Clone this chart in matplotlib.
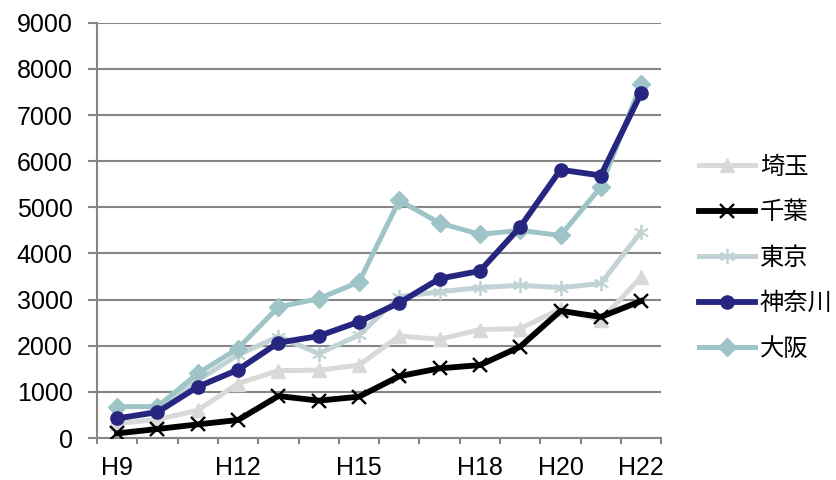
import matplotlib
matplotlib.use("Agg")
import matplotlib.pyplot as plt
import numpy as np

plt.rcParams['font.family'] = ['Liberation Sans', 'Noto Sans CJK JP', 'DejaVu Sans']

categories = ["H9", "H10", "H11", "H12", "H13", "H14", "H15", "H16", "H17", "H18", "H19", "H20", "H21", "H22"]
tick_labels = ["H9", "", "", "H12", "", "", "H15", "", "", "H18", "", "H20", "", "H22"]

saitama = [315, 400, 600, 1180, 1460, 1470, 1580, 2210, 2140, 2350, 2370, 2800, 2550, 3490]
chiba = [100, 195, 295, 390, 910, 810, 895, 1340, 1510, 1580, 1980, 2755, 2625, 2970]
tokyo = [400, 600, 1250, 1800, 2200, 1830, 2230, 3060, 3170, 3260, 3310, 3260, 3350, 4470]
kanagawa = [425, 560, 1110, 1480, 2065, 2210, 2520, 2930, 3455, 3620, 4575, 5815, 5690, 7475]
osaka = [680, 680, 1400, 1940, 2840, 3020, 3380, 5150, 4660, 4415, 4500, 4390, 5440, 7680]

series_names = ["埼玉", "千葉", "東京", "神奈川", "大阪"]

fig = plt.figure(figsize=(8.36, 4.8), dpi=100)
ax = fig.add_axes([0.116, 0.0875, 0.675, 0.865])

x = np.arange(len(categories))
grid_c = "#868686"

ax.plot(x, saitama, color="#D9D9D9", lw=3.6, marker="^", ms=10, mec="#D9D9D9", mfc="#D9D9D9", label=series_names[0], zorder=3)
ax.plot(x, chiba, color="#000000", lw=4.2, marker="x", ms=10.5, mew=1.7, mec="#000000", label=series_names[1], zorder=4)
ax.plot(x, tokyo, color="#C2D3D5", lw=3.6, marker=(6, 2, 0), ms=11, mew=1.3, mec="#C2D3D5", label=series_names[2], zorder=3)
ax.plot(x, kanagawa, color="#262680", lw=4.2, marker="o", ms=9.5, mec="#262680", mfc="#262680", label=series_names[3], zorder=5)
ax.plot(x, osaka, color="#9EC4C7", lw=3.6, marker="D", ms=9.5, mec="#9EC4C7", mfc="#9EC4C7", label=series_names[4], zorder=4)

ax.set_xlim(-0.5, len(categories) - 0.5)
ax.set_ylim(0, 9000)
ax.set_yticks(np.arange(0, 9001, 1000))
ax.yaxis.grid(True, color=grid_c, lw=1.5)
ax.set_axisbelow(True)

ax.set_xticks(x)
ax.set_xticklabels(tick_labels)
ax.set_xticks(np.arange(-0.5, len(categories), 1.0), minor=True)
ax.tick_params(axis="x", which="major", length=0, pad=13, labelsize=18)
ax.tick_params(axis="x", which="minor", length=4.5, width=1.5, color=grid_c, direction="out")
ax.tick_params(axis="y", length=6.5, width=1.5, color=grid_c, direction="out", labelsize=18, pad=11)

for s in ["top", "right"]:
    ax.spines[s].set_visible(False)
for s in ["left", "bottom"]:
    ax.spines[s].set_color(grid_c)
    ax.spines[s].set_linewidth(1.5)

leg = fig.legend(loc="center left", bbox_to_anchor=(0.81, 0.463), frameon=False,
                 prop={"family": ["Noto Sans CJK JP", "DejaVu Sans"], "size": 17.5},
                 handlelength=2.3, handletextpad=0.2, labelspacing=0.8)

fig.savefig("out.png", dpi=100)
